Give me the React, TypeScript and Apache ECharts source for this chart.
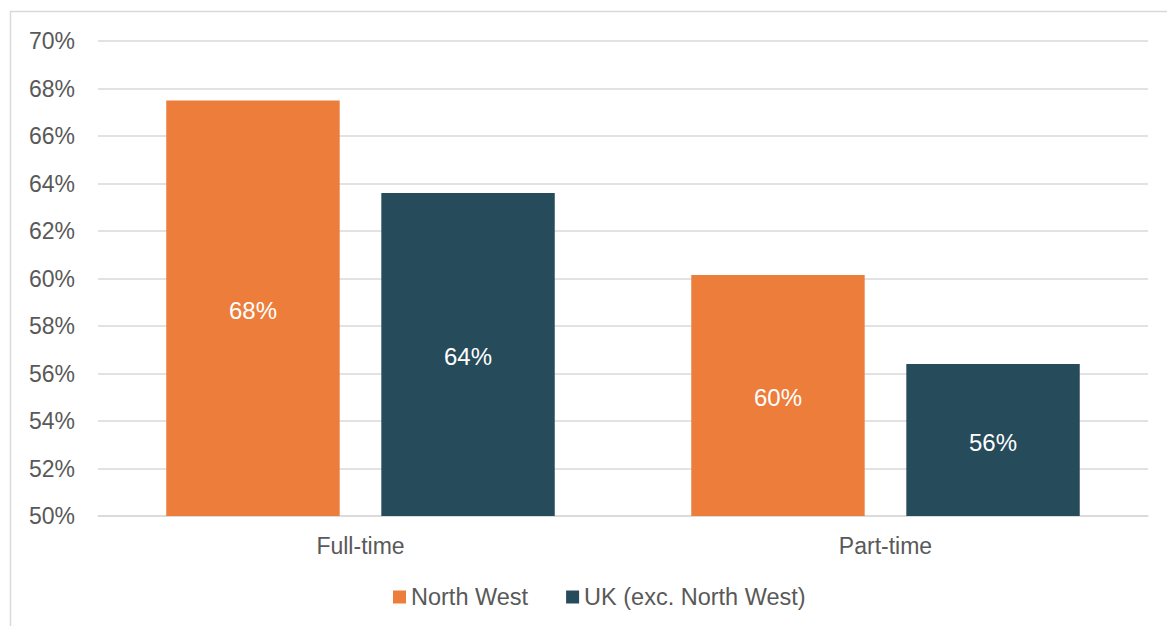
import React, { useEffect, useRef } from "react";
import * as echarts from "echarts";

const categories = ["Full-time", "Part-time"];
const northWest = [67.5, 60.15];
const ukExcNW = [63.6, 56.4];
const seriesNames = ["North West", "UK (exc. North West)"];
const colors = ["#ED7D3B", "#264B5A"];

export default function App() {
  const ref = useRef<HTMLDivElement>(null);
  useEffect(() => {
    document.body.style.margin = "0";
    const chart = echarts.init(ref.current!, null, { renderer: "svg" });
    const font = "Liberation Sans, Arial, sans-serif";
    const label = {
      show: true,
      position: "inside",
      color: "#ffffff",
      fontSize: 24,
      fontFamily: font,
      offset: [0, 2],
      formatter: (p: any) => Math.round(p.value) + "%",
    };
    chart.setOption({
      animation: false,
      graphic: [
        {
          type: "rect",
          shape: { x: 10.5, y: 11.5, width: 1300, height: 800 },
          style: { fill: "none", stroke: "#d9d9d9", lineWidth: 1.5 },
          silent: true,
        },
      ],
      grid: { left: 98, right: 19, top: 41, bottom: 110 },
      legend: {
        data: seriesNames,
        left: 388,
        top: 580,
        itemWidth: 13,
        itemHeight: 13,
        itemGap: 38,
        icon: "rect",
        textStyle: { color: "#595959", fontSize: 23.5, fontFamily: font, padding: [0, 0, 0, 0] },
      },
      xAxis: {
        type: "category",
        data: categories,
        axisLine: { lineStyle: { color: "#d9d9d9", width: 1.5 } },
        axisTick: { show: false },
        axisLabel: { color: "#595959", fontSize: 23, fontFamily: font, margin: 18 },
      },
      yAxis: {
        type: "value",
        min: 50,
        max: 70,
        interval: 2,
        axisLine: { show: false },
        axisTick: { show: false },
        splitLine: { lineStyle: { color: "#d9d9d9", width: 1.5 } },
        axisLabel: {
          color: "#595959",
          fontSize: 23,
          fontFamily: font,
          margin: 23,
          formatter: (v: number) => v + "%",
        },
      },
      series: [
        {
          name: seriesNames[0],
          type: "bar",
          data: northWest,
          itemStyle: { color: colors[0] },
          barGap: "24%",
          barCategoryGap: "26%",
          label,
        },
        {
          name: seriesNames[1],
          type: "bar",
          data: ukExcNW,
          itemStyle: { color: colors[1] },
          barGap: "24%",
          barCategoryGap: "26%",
          label,
        },
      ],
    });
    return () => chart.dispose();
  }, []);
  return <div ref={ref} style={{ width: 1167, height: 626 }} />;
}
